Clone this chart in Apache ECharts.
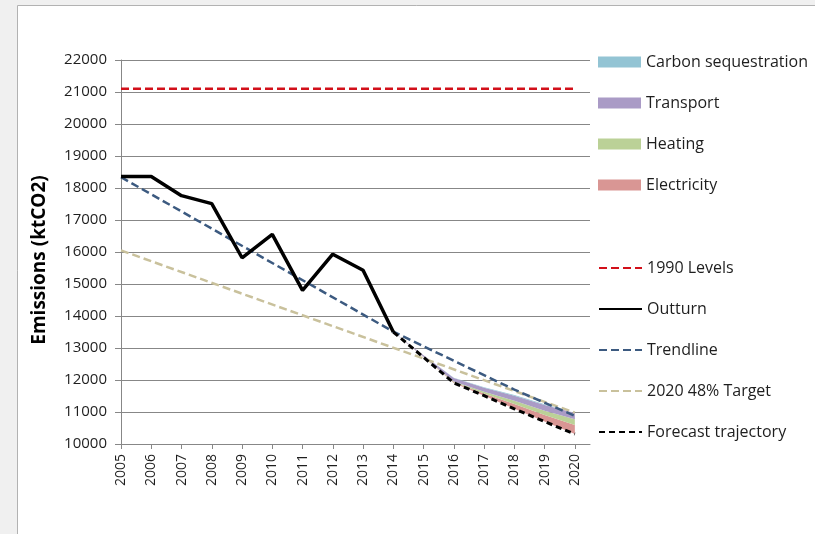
<!DOCTYPE html>
<html><head><meta charset="utf-8">
<script src="https://cdn.jsdelivr.net/npm/echarts@6/dist/echarts.min.js"></script>
<style>html,body{margin:0;padding:0;background:#fff}#c{width:815px;height:534px}</style>
</head><body><div id="c"></div>
<script>
const yearLabels = ['2005','2006','2007','2008','2009','2010','2011','2012','2013','2014','2015','2016','2017','2018','2019','2020'];
const outturnYears = [2005,2006,2007,2008,2009,2010,2011,2012,2013,2014];
const outturn = [18360,18360,17760,17510,15820,16550,14800,15930,15430,13500];
const forecastYears = [2014,2015,2016,2017,2018,2019,2020];
const forecast = [13500,12710,11910,11510,11100,10700,10310];
const electricity = [0,10,20,70,150,210,280];
const heating = [0,10,20,50,100,130,180];
const transport = [0,40,110,130,160,175,200];
const sequestration = [0,0,10,15,20,25,20];
const trendYears = [2005,2014,2016,2018,2020];
const trendline = [18340,13510,12600,11700,10880];
const lineYears = [2005,2020];
const target = [16050,10980];
const levels1990 = [21100,21100];

const T = y => Date.UTC(y, 0, 1);
const zip = (xs, ys) => xs.map((x, i) => [T(x), ys[i]]);
const FONT = 'Open Sans';
const TXT = '#1e1e1e';
const GRIDC = '#878787';

const areaColors = {sequestration:'#93c4d4', transport:'#aa9bc6', heating:'#bbd197', electricity:'#d99694'};

function areaSeries(name, vals, color, z) {
  return {
    name, type:'line', stack:'fc', data: zip(forecastYears, vals),
    symbol:'none', silent:true, z,
    lineStyle:{width:0, color}, itemStyle:{color},
    areaStyle:{color, opacity:1}
  };
}

const chart = echarts.init(document.getElementById('c'));
chart.setOption({
  animation:false,
  textStyle:{fontFamily:FONT},
  graphic:[
    {type:'rect', z:-10, silent:true, shape:{x:0,y:0,width:815,height:534}, style:{fill:'#f0f0f0'}},
    {type:'rect', z:-9, silent:true, shape:{x:17.5,y:5.5,width:800,height:540}, style:{fill:'#ffffff', stroke:'#b2b2b2', lineWidth:1}}
  ],
  grid:[
    {left:121, right:225, top:60, bottom:90, containLabel:false},
    {left:121, right:240, top:60, bottom:90, containLabel:false}
  ],
  xAxis:[
    {type:'time', gridIndex:0, min:T(2005), max:Date.UTC(2020,6,2),
     axisLine:{show:true, lineStyle:{color:GRIDC, width:1}},
     axisTick:{show:false}, axisLabel:{show:false}, splitLine:{show:false}},
    {type:'category', gridIndex:1, data:yearLabels, boundaryGap:false,
     axisLine:{show:false}, axisTick:{show:true, length:5, lineStyle:{color:GRIDC}},
     axisLabel:{rotate:90, margin:10, fontSize:14, color:TXT, fontFamily:FONT},
     splitLine:{show:false}}
  ],
  yAxis:[
    {type:'value', gridIndex:0, min:10000, max:22000, interval:1000,
     name:'Emissions (ktCO2)', nameLocation:'middle', nameGap:72, nameRotate:90,
     nameTextStyle:{fontSize:19, fontWeight:'bold', color:'#000', fontFamily:FONT, padding:[0,16,0,0]},
     axisLine:{show:true, lineStyle:{color:GRIDC, width:1}},
     axisTick:{show:true, inside:false, length:6, lineStyle:{color:GRIDC}},
     axisLabel:{margin:14, fontSize:15, color:TXT, fontFamily:FONT, formatter:v => String(v)},
     splitLine:{show:true, lineStyle:{color:GRIDC, width:1}}},
    {type:'value', gridIndex:1, min:0, max:1, show:false}
  ],
  legend:[
    {orient:'vertical', left:598, top:54, padding:0, itemWidth:43, itemHeight:11, itemGap:25,
     icon:'rect', selectedMode:false,
     textStyle:{fontSize:16, color:TXT, fontFamily:FONT, lineHeight:16},
     data:['Carbon sequestration','Transport','Heating','Electricity']},
    {orient:'vertical', left:598, top:260, padding:0, itemWidth:43, itemHeight:11, itemGap:25,
     selectedMode:false, itemStyle:{opacity:0},
     textStyle:{fontSize:16, color:TXT, fontFamily:FONT, lineHeight:16},
     data:['1990 Levels','Outturn','Trendline','2020 48% Target','Forecast trajectory']}
  ],
  series:[
    {name:'base', type:'line', stack:'fc', data:zip(forecastYears, forecast), symbol:'none', silent:true,
     lineStyle:{width:0}, z:1},
    areaSeries('Electricity', electricity, areaColors.electricity, 2),
    areaSeries('Heating', heating, areaColors.heating, 2),
    areaSeries('Transport', transport, areaColors.transport, 2),
    areaSeries('Carbon sequestration', sequestration, areaColors.sequestration, 2),
    {name:'1990 Levels', type:'line', data:zip(lineYears, levels1990), symbol:'none', z:5,
     lineStyle:{color:'#d2101a', width:2.5, type:[8,4]}, itemStyle:{color:'#d2101a'}},
    {name:'Outturn', type:'line', data:zip(outturnYears, outturn), symbol:'none', z:6,
     lineStyle:{color:'#000', width:3.5}, itemStyle:{color:'#000'}},
    {name:'Trendline', type:'line', data:zip(trendYears, trendline), symbol:'none', z:5,
     lineStyle:{color:'#3c5a80', width:2.5, type:[8,4]}, itemStyle:{color:'#3c5a80'}},
    {name:'2020 48% Target', type:'line', data:zip(lineYears, target), symbol:'none', z:4,
     lineStyle:{color:'#c9c19c', width:2.5, type:[8,4]}, itemStyle:{color:'#c9c19c'}},
    {name:'Forecast trajectory', type:'line', data:zip(forecastYears, forecast), symbol:'none', z:6,
     lineStyle:{color:'#000', width:3, type:[6,4]}, itemStyle:{color:'#000'}}
  ]
});
</script></body></html>
